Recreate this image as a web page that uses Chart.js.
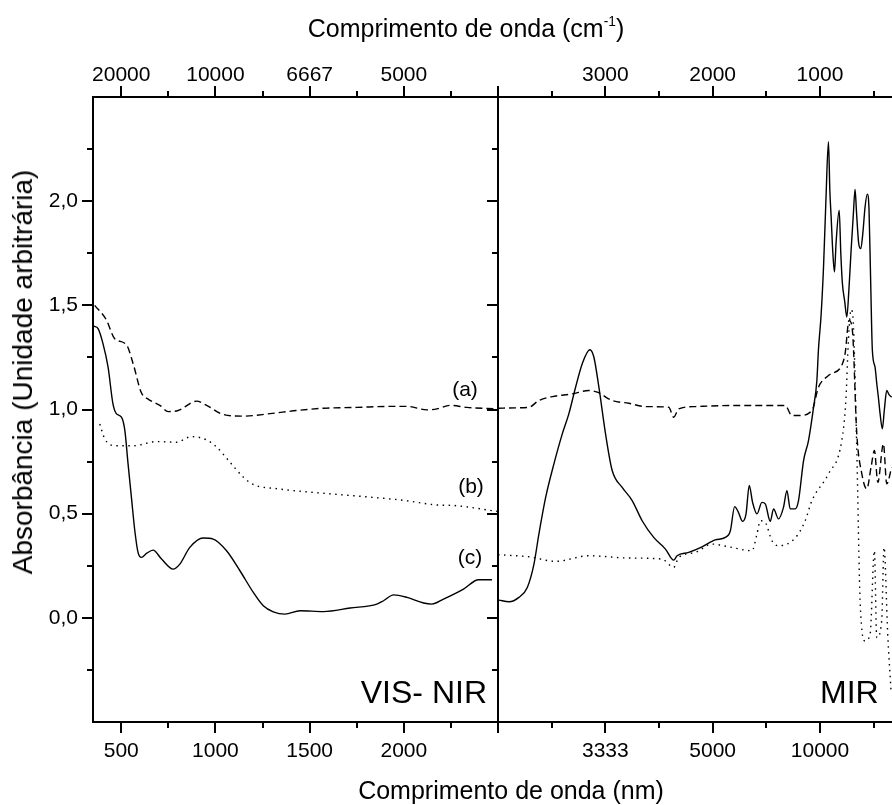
<!DOCTYPE html>
<html>
<head>
<meta charset="utf-8">
<script src="https://cdn.jsdelivr.net/npm/chart.js@4.4.1/dist/chart.umd.min.js"></script>
<style>
  html, body { margin: 0; padding: 0; background: #fff; }
  body { width: 892px; height: 805px; position: relative; overflow: hidden;
         font-family: "Liberation Sans", Arial, sans-serif; color: #000; }
  canvas { position: absolute; top: 0; }
  .lbl { position: absolute; white-space: nowrap; line-height: 1; }
  .big { font-size: 25px; }
  .tag { font-size: 21px; }
  .zone { font-size: 32px; }
</style>
</head>
<body>
<canvas id="visChart" width="499" height="805" style="left:0"></canvas>
<canvas id="mirChart" width="451" height="805" style="left:441px"></canvas>

<div class="lbl big" style="left:466px; top:28px; transform:translate(-50%,-50%)">Comprimento de onda (cm<span style="font-size:0.55em; vertical-align:0.85em">-1</span>)</div>
<div class="lbl big" style="left:511px; top:790px; transform:translate(-50%,-50%)">Comprimento de onda (nm)</div>
<div class="lbl big" style="left:23px; top:372px; font-size:28px; transform:translate(-50%,-50%) rotate(-90deg)">Absorbância (Unidade arbitrária)</div>
<div class="lbl zone" style="right:405px; top:676px">VIS- NIR</div>
<div class="lbl zone" style="left:820px; top:676px">MIR</div>
<div class="lbl tag" style="left:465px; top:388px; transform:translate(-50%,-50%)">(a)</div>
<div class="lbl tag" style="left:471px; top:485px; transform:translate(-50%,-50%)">(b)</div>
<div class="lbl tag" style="left:470px; top:556px; transform:translate(-50%,-50%)">(c)</div>

<script>
// ---- VIS-NIR (x em nm) ----
const visNmA  = [359, 421, 465, 528, 563, 607, 643, 705, 749, 802, 900, 953, 1041, 1148, 1290, 1431, 1573, 1750, 1928, 2017, 2123, 2176, 2247, 2335, 2495];
const visAbsA = [1.50, 1.43, 1.34, 1.31, 1.22, 1.08, 1.05, 1.02, 0.99, 0.995, 1.04, 1.02, 0.976, 0.968, 0.98, 0.995, 1.006, 1.01, 1.015, 1.015, 0.998, 1.003, 1.02, 1.01, 1.003];

const visNmB  = [386, 412, 465, 563, 687, 793, 873, 953, 1006, 1077, 1148, 1201, 1325, 1573, 1839, 2017, 2158, 2282, 2495];
const visAbsB = [0.93, 0.86, 0.826, 0.826, 0.846, 0.843, 0.87, 0.854, 0.82, 0.747, 0.675, 0.64, 0.62, 0.598, 0.578, 0.562, 0.543, 0.538, 0.511];

const visNmC  = [354, 377, 403, 430, 456, 474, 501, 519, 536, 554, 572, 589, 607, 634, 669, 714, 775, 811, 864, 935, 988, 1059, 1130, 1201, 1254, 1307, 1369, 1449, 1573, 1715, 1857, 1892, 1946, 2017, 2105, 2149, 2211, 2317, 2397, 2468];
const visAbsC = [1.40, 1.388, 1.316, 1.203, 1.027, 0.98, 0.963, 0.90, 0.74, 0.578, 0.418, 0.314, 0.29, 0.309, 0.325, 0.282, 0.234, 0.258, 0.338, 0.383, 0.378, 0.322, 0.226, 0.122, 0.058, 0.029, 0.018, 0.034, 0.03, 0.047, 0.066, 0.082, 0.11, 0.098, 0.071, 0.066, 0.09, 0.138, 0.183, 0.183];

const nmTicks     = [500, 1000, 1500, 2000];
const nmTopLabels = ['20000', '10000', '6667', '5000'];
const nmMajorMarks = [500, 1000, 1500, 2000, 2500];
const nmMinorMarks = [750, 1250, 1750, 2250];

// ---- MIR (x em cm-1) ----
const mirWnA  = [4000, 3835, 3712, 3619, 3494, 3308, 3154, 3075, 2936, 2781, 2626, 2409, 2363, 2316, 2161, 1851, 1541, 1324, 1262, 1200, 1075, 1014, 921, 797, 766, 729, 698, 657, 610, 564, 524, 493, 461, 409, 378, 332];
const mirAbsA = [1.006, 1.008, 1.011, 1.043, 1.062, 1.075, 1.091, 1.083, 1.043, 1.03, 1.014, 1.011, 0.963, 1.003, 1.014, 1.019, 1.019, 1.019, 0.971, 0.971, 0.995, 1.107, 1.163, 1.212, 1.268, 1.428, 1.38, 0.883, 0.691, 0.619, 0.723, 0.803, 0.65, 0.835, 0.643, 0.723];

const mirWnB  = [4000, 3712, 3463, 3154, 2781, 2471, 2363, 2316, 2161, 2006, 1851, 1634, 1587, 1556, 1510, 1448, 1386, 1231, 1138, 1075, 921, 797, 759, 735, 710, 688, 657, 626, 580, 533, 493, 471, 425, 403, 369, 338];
const mirAbsB = [0.303, 0.293, 0.271, 0.298, 0.287, 0.282, 0.242, 0.29, 0.314, 0.354, 0.341, 0.322, 0.402, 0.466, 0.458, 0.37, 0.346, 0.383, 0.466, 0.563, 0.691, 0.851, 1.043, 1.332, 1.48, 1.396, 0.803, 0.082, -0.111, -0.078, 0.322, -0.095, -0.014, 0.338, -0.078, -0.35];

const mirWnC  = [3991, 3898, 3805, 3727, 3665, 3619, 3556, 3479, 3401, 3340, 3277, 3215, 3144, 3107, 3060, 2998, 2936, 2843, 2750, 2657, 2549, 2440, 2363, 2331, 2223, 2099, 1975, 1882, 1835, 1795, 1764, 1721, 1689, 1659, 1628, 1587, 1541, 1510, 1463, 1433, 1386, 1340, 1308, 1277, 1231, 1200, 1153, 1107, 1060, 1029, 1014, 990, 967, 945, 921, 908, 896, 880, 865, 850, 821, 806, 791, 770, 750, 730, 710, 690, 673, 660, 640, 620, 600, 580, 559, 543, 528, 512, 487, 470, 456, 440, 419, 400, 378, 355, 332];
const mirAbsC = [0.085, 0.077, 0.098, 0.146, 0.258, 0.402, 0.578, 0.739, 0.883, 0.979, 1.107, 1.22, 1.287, 1.252, 1.107, 0.883, 0.707, 0.626, 0.563, 0.466, 0.386, 0.33, 0.277, 0.298, 0.314, 0.341, 0.374, 0.386, 0.418, 0.534, 0.511, 0.463, 0.499, 0.635, 0.554, 0.499, 0.554, 0.547, 0.463, 0.523, 0.475, 0.53, 0.61, 0.523, 0.523, 0.563, 0.755, 0.851, 1.01, 1.139, 1.29, 1.45, 1.684, 2.0, 2.285, 2.05, 1.924, 1.75, 1.66, 1.80, 1.957, 1.75, 1.604, 1.52, 1.444, 1.58, 1.764, 1.93, 2.056, 1.95, 1.80, 1.772, 1.85, 1.972, 2.034, 1.957, 1.62, 1.284, 1.203, 1.12, 1.059, 0.98, 0.907, 1.0, 1.091, 1.07, 1.059];

const wnTicks        = [3000, 2000, 1000];
const wnBottomLabels = ['3333', '5000', '10000'];
const wnMajorMarks   = [4000, 3000, 2000, 1000];
const wnMinorMarks   = [3500, 2500, 1500, 500];

// ---- eixo y ----
const absTicks      = [0, 0.5, 1, 1.5, 2];
const absMinorMarks = [-0.25, 0.25, 0.75, 1.25, 1.75, 2.25];

const tickFont = { family: 'Liberation Sans', size: 21 };

function pts(xs, ys) {
  return xs.map((x, i) => ({ x: x, y: ys[i] }));
}

function curve(xs, ys, dash) {
  return {
    data: pts(xs, ys),
    borderColor: '#000',
    borderWidth: 1.4,
    borderDash: dash,
    pointRadius: 0,
    fill: false,
    cubicInterpolationMode: 'monotone'
  };
}

// frame + major/minor tick marks, drawn on the scales' own pixels
const frameTicks = {
  id: 'frameTicks',
  afterDraw(chart, args, opts) {
    const ctx = chart.ctx;
    const a = chart.chartArea;
    const xs = chart.scales.x;
    const ys = chart.scales.y;
    ctx.save();
    ctx.strokeStyle = '#000';
    ctx.lineWidth = 2;
    ctx.beginPath();
    ctx.moveTo(a.left, a.top);
    ctx.lineTo(a.left, a.bottom);
    if (opts.closed) {
      ctx.moveTo(a.right, a.top);
      ctx.lineTo(a.right, a.bottom);
    }
    ctx.moveTo(a.left - 1, a.top);
    ctx.lineTo(a.right + 1, a.top);
    ctx.moveTo(a.left - 1, a.bottom);
    ctx.lineTo(a.right + 1, a.bottom);

    const xMark = (v, len) => {
      const px = Math.round(xs.getPixelForValue(v));
      ctx.moveTo(px, a.bottom); ctx.lineTo(px, a.bottom + len);
      ctx.moveTo(px, a.top);    ctx.lineTo(px, a.top - len);
    };
    const yMark = (v, len) => {
      const py = Math.round(ys.getPixelForValue(v));
      ctx.moveTo(a.left, py); ctx.lineTo(a.left - len, py);
    };
    opts.xMajor.forEach(v => xMark(v, 11));
    opts.xMinor.forEach(v => xMark(v, 6));
    absTicks.forEach(v => yMark(v, 11));
    absMinorMarks.forEach(v => yMark(v, 6));
    ctx.stroke();
    ctx.restore();
  }
};

function xAxis(pos, min, max, reverse, values, labels, size, pad) {
  return {
    type: 'linear',
    position: pos,
    min: min,
    max: max,
    reverse: reverse,
    afterBuildTicks: s => { s.ticks = values.map(v => ({ value: v })); },
    afterFit: s => { s.height = size; },
    grid: { display: false, drawTicks: false },
    border: { display: false },
    ticks: {
      font: tickFont, color: '#000', padding: pad,
      maxRotation: 0, autoSkip: false,
      callback: (v, i) => labels[i]
    }
  };
}

function yAxis(width, showLabels) {
  return {
    type: 'linear',
    min: -0.5,
    max: 2.5,
    afterBuildTicks: s => { s.ticks = absTicks.map(v => ({ value: v })); },
    afterFit: s => { s.width = width; },
    grid: { display: false, drawTicks: false },
    border: { display: false },
    ticks: {
      display: showLabels,
      font: tickFont, color: '#000', padding: 15,
      callback: v => v.toFixed(1).replace('.', ',')
    }
  };
}

const visChart = new Chart(document.getElementById('visChart'), {
  type: 'line',
  data: {
    datasets: [
      curve(visNmA, visAbsA, [7, 4]),
      curve(visNmB, visAbsB, [1.5, 4.5]),
      curve(visNmC, visAbsC, [])
    ]
  },
  options: {
    responsive: false,
    animation: false,
    layout: { padding: { right: 1 } },
    plugins: {
      legend: { display: false },
      tooltip: { enabled: false },
      frameTicks: { closed: true, xMajor: nmMajorMarks, xMinor: nmMinorMarks }
    },
    scales: {
      x: xAxis('bottom', 350, 2500, false, nmTicks, nmTicks.map(String), 83, 17),
      xTop: xAxis('top', 350, 2500, false, nmTicks, nmTopLabels, 97, 9),
      y: yAxis(93, true)
    }
  },
  plugins: [frameTicks]
});

const mirChart = new Chart(document.getElementById('mirChart'), {
  type: 'line',
  data: {
    datasets: [
      curve(mirWnA, mirAbsA, [7, 4]),
      curve(mirWnB, mirAbsB, [1.5, 4.5]),
      curve(mirWnC, mirAbsC, [])
    ]
  },
  options: {
    responsive: false,
    animation: false,
    plugins: {
      legend: { display: false },
      tooltip: { enabled: false },
      frameTicks: { closed: false, xMajor: wnMajorMarks, xMinor: wnMinorMarks }
    },
    scales: {
      x: xAxis('bottom', 329, 4000, true, wnTicks, wnBottomLabels, 83, 17),
      xTop: xAxis('top', 329, 4000, true, wnTicks, wnTicks.map(String), 97, 9),
      y: yAxis(57, false)
    }
  },
  plugins: [frameTicks]
});
</script>
</body>
</html>
